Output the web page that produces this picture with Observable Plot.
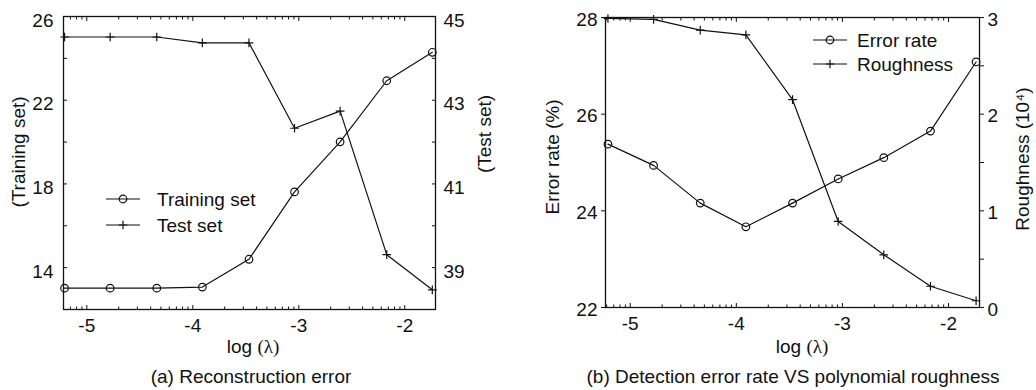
<!DOCTYPE html>
<html>
<head>
<meta charset="utf-8">
<script src="https://cdn.jsdelivr.net/npm/d3@7"></script>
<script src="https://cdn.jsdelivr.net/npm/@observablehq/plot@0.6"></script>
<style>
  body { margin: 0; background: #fff; }
  #fig { position: relative; width: 1036px; height: 390px; font-family: "Liberation Sans", Arial, sans-serif; color: #111; }
  .panel { position: absolute; top: 0; }
  .caption { position: absolute; font-size: 19px; white-space: nowrap; transform: translate(-50%, -50%); }
</style>
</head>
<body>
<div id="fig"></div>
<script>
// log10 of the regularisation weight (lambda = e^-12 ... e^-4)
const logLambda = [-5.21, -4.78, -4.34, -3.91, -3.47, -3.04, -2.61, -2.17, -1.74];

// (a) reconstruction error
const trainingError = [13.02, 13.02, 13.02, 13.07, 14.40, 17.62, 20.01, 22.93, 24.29];
const testError     = [44.51, 44.51, 44.51, 44.37, 44.37, 42.33, 42.74, 39.31, 38.47];

// (b) detection error rate (%) and polynomial roughness (x 10^4)
const errorRate = [25.38, 24.94, 24.16, 23.67, 24.16, 24.66, 25.10, 25.65, 27.08];
const roughness = [2.99, 2.98, 2.87, 2.82, 2.15, 0.89, 0.545, 0.22, 0.07];

// tick values
const xTicks = [-5, -4, -3, -2];
const trainTicks = [14, 18, 22, 26];
const trainMinor = [16, 20, 24];
const testTicks = [39, 41, 43, 45];
const testMinor = [40, 42, 44];
const rateTicks = [22, 24, 26, 28];
const roughTicks = [0, 1, 2, 3];
const roughMinor = [0.5, 1.5, 2.5];

// logarithmic minor ticks within each decade of lambda
const xMinor = [];
for (let d = -6; d <= -2; d++) for (let k = 2; k <= 9; k++) xMinor.push(d + Math.log10(k));

const INK = "#111";
const FONT = '"Liberation Sans", Arial, sans-serif';
const SERIF = '"Liberation Serif", "DejaVu Serif", serif';
const FS = 19;
const CIRCLE_R = 3.8;
const PLUS_R = 2.9;

const rowsA = logLambda.map((x, i) => ({x, train: trainingError[i], test: testError[i]}));
const rowsB = logLambda.map((x, i) => ({x, rate: errorRate[i], rough: roughness[i]}));

const blank = () => "";

function xAxes(domain) {
  const minor = xMinor.filter(v => v >= domain[0] && v <= domain[1] && !xTicks.some(t => Math.abs(t - v) < 1e-9));
  return [
    Plot.axisX(xTicks, {anchor: "bottom", tickSize: -4, tickFormat: blank, label: null, stroke: INK}),
    Plot.axisX(xTicks, {anchor: "top", tickSize: -4, tickFormat: blank, label: null, stroke: INK}),
    Plot.axisX(minor, {anchor: "bottom", tickSize: -2.5, tickFormat: blank, label: null, stroke: INK}),
    Plot.axisX(minor, {anchor: "top", tickSize: -2.5, tickFormat: blank, label: null, stroke: INK}),
    Plot.axisX(xTicks, {anchor: "bottom", tickSize: 0, tickPadding: 9, tickFormat: d => String(d), label: null, fill: INK})
  ];
}

const fig = document.getElementById("fig");

// ---------- (a) Reconstruction error ----------
const testToY = d3.scaleLinear([38, 45], [12, 26]);
const domainA = [-5.22, -1.71];
const plotA = Plot.plot({
  width: 518, height: 390,
  marginLeft: 63, marginRight: 83, marginTop: 16, marginBottom: 81,
  x: {domain: domainA, label: null},
  y: {domain: [12, 26], label: null},
  style: {fontFamily: FONT, fontSize: FS + "px", color: INK, background: "transparent", overflow: "visible"},
  marks: [
    ...xAxes(domainA),
    Plot.axisY([...trainTicks, ...trainMinor], {anchor: "left", tickSize: -4, tickFormat: blank, label: null, stroke: INK}),
    Plot.axisY(trainTicks, {anchor: "left", tickSize: 0, tickPadding: 10, dy: 4, tickFormat: d => String(d), label: null, fill: INK}),
    Plot.axisY([...testTicks, ...testMinor].map(testToY), {anchor: "right", tickSize: -4, tickFormat: blank, label: null, stroke: INK}),
    Plot.axisY(testTicks.map(testToY), {anchor: "right", tickSize: 0, tickPadding: 8, dy: 4,
      tickFormat: d => String(Math.round(testToY.invert(d))), label: null, fill: INK}),
    Plot.line(rowsA, {x: "x", y: "train", stroke: INK, strokeWidth: 1.2}),
    Plot.dot(rowsA, {x: "x", y: "train", symbol: "circle", r: CIRCLE_R, stroke: INK, strokeWidth: 1.2, fill: "none"}),
    Plot.line(rowsA, {x: "x", y: d => testToY(d.test), stroke: INK, strokeWidth: 1.2}),
    Plot.dot(rowsA, {x: "x", y: d => testToY(d.test), symbol: "plus", r: PLUS_R, stroke: INK, strokeWidth: 1.2}),
    Plot.frame({stroke: INK, strokeWidth: 1.3})
  ]
});
plotA.classList.add("panel");
plotA.style.left = "0px";
fig.appendChild(plotA);

// ---------- (b) Detection error rate VS polynomial roughness ----------
const roughToY = d3.scaleLinear([0, 3], [22, 28]);
const domainB = [-5.233, -1.708];
const plotB = Plot.plot({
  width: 518, height: 390,
  marginLeft: 87, marginRight: 57, marginTop: 17, marginBottom: 83,
  x: {domain: domainB, label: null},
  y: {domain: [22, 28], label: null},
  style: {fontFamily: FONT, fontSize: FS + "px", color: INK, background: "transparent", overflow: "visible"},
  marks: [
    ...xAxes(domainB),
    Plot.axisY(rateTicks, {anchor: "left", tickSize: 4, tickFormat: blank, label: null, stroke: INK}),
    Plot.axisY(rateTicks, {anchor: "left", tickSize: 0, tickPadding: 8, dy: 2, tickFormat: d => String(d), label: null, fill: INK}),
    Plot.axisY([...roughTicks, ...roughMinor].map(roughToY), {anchor: "right", tickSize: 4, tickFormat: blank, label: null, stroke: INK}),
    Plot.axisY(roughTicks.map(roughToY), {anchor: "right", tickSize: 0, tickPadding: 8, dy: 2,
      tickFormat: d => String(Math.round(roughToY.invert(d))), label: null, fill: INK}),
    Plot.line(rowsB, {x: "x", y: "rate", stroke: INK, strokeWidth: 1.2}),
    Plot.dot(rowsB, {x: "x", y: "rate", symbol: "circle", r: CIRCLE_R, stroke: INK, strokeWidth: 1.2, fill: "none"}),
    Plot.line(rowsB, {x: "x", y: d => roughToY(d.rough), stroke: INK, strokeWidth: 1.2}),
    Plot.dot(rowsB, {x: "x", y: d => roughToY(d.rough), symbol: "plus", r: PLUS_R, stroke: INK, strokeWidth: 1.2}),
    Plot.frame({stroke: INK, strokeWidth: 1.3})
  ]
});
plotB.classList.add("panel");
plotB.style.left = "518px";
fig.appendChild(plotB);

// ---------- axis titles and legends ----------
function title(svg, text, cx, cy, rotate) {
  const t = d3.select(svg).append("text")
    .attr("text-anchor", "middle")
    .attr("font-family", FONT).attr("font-size", FS).attr("fill", INK);
  // shift the baseline so the glyph box is centred on (cx, cy)
  const off = 0.26 * FS;
  if (rotate) t.attr("transform", `translate(${cx + off},${cy}) rotate(-90)`);
  else t.attr("transform", `translate(${cx},${cy + off})`);
  return t.text(text);
}
function lambdaTitle(svg, cx, cy) {
  const t = d3.select(svg).append("text")
    .attr("text-anchor", "middle")
    .attr("font-family", FONT).attr("font-size", FS).attr("fill", INK)
    .attr("transform", `translate(${cx},${cy + 0.26 * FS})`);
  t.append("tspan").text("log ");
  t.append("tspan").attr("font-family", SERIF).text("(λ)");
}
function legend(svg, items, x0, y0, step, textX) {
  const g = d3.select(svg).append("g").attr("transform", `translate(${x0},${y0})`);
  items.forEach((it, i) => {
    const y = i * step;
    g.append("line").attr("x1", 0).attr("x2", 34).attr("y1", y).attr("y2", y)
      .attr("stroke", INK).attr("stroke-width", 1.2);
    if (it.symbol === "circle") {
      g.append("circle").attr("cx", 17).attr("cy", y).attr("r", CIRCLE_R)
        .attr("fill", "none").attr("stroke", INK).attr("stroke-width", 1.2);
    } else {
      g.append("path").attr("transform", `translate(17,${y})`)
        .attr("d", d3.symbol(d3.symbolPlus, Math.PI * PLUS_R * PLUS_R)())
        .attr("fill", "none").attr("stroke", INK).attr("stroke-width", 1.2);
    }
    g.append("text").attr("x", textX).attr("y", y + 0.36 * FS)
      .attr("text-anchor", "start")
      .attr("font-family", FONT).attr("font-size", FS).attr("fill", INK).text(it.label);
  });
}

title(plotA, "(Training set)", 20, 152, true);
title(plotA, "(Test set)", 486, 134, true);
lambdaTitle(plotA, 253, 348);
legend(plotA, [{label: "Training set", symbol: "circle"}, {label: "Test set", symbol: "plus"}], 106, 199, 26, 51);

title(plotB, "Error rate (%)", 554 - 518, 157, true);
title(plotB, "Roughness (10⁴)", 1024 - 518, 159, true);
lambdaTitle(plotB, 802 - 518, 348);
legend(plotB, [{label: "Error rate", symbol: "circle"}, {label: "Roughness", symbol: "plus"}], 813 - 518, 40, 24, 44);

// ---------- captions ----------
[["(a) Reconstruction error", 251], ["(b) Detection error rate VS polynomial roughness", 793]].forEach(([text, cx]) => {
  const c = document.createElement("div");
  c.className = "caption";
  c.style.left = cx + "px";
  c.style.top = "377px";
  c.textContent = text;
  fig.appendChild(c);
});
</script>
</body>
</html>
